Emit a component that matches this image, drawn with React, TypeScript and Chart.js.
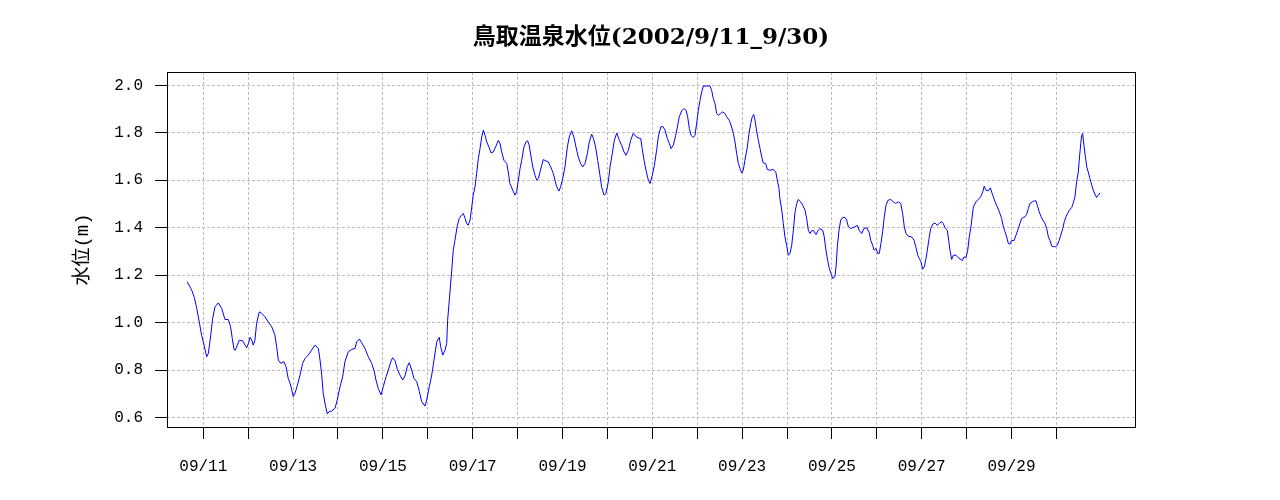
import React, { useEffect, useRef } from "react";
import { Chart, registerables } from "chart.js";

Chart.register(...registerables);

const TITLE = "鳥取温泉水位(2002/9/11_9/30)";
const Y_LABEL = "水位(m)";

// tick positions in days since 2002-09-11 00:00, and their labels
const tickDays = [0, 1, 2, 3, 4, 5, 6, 7, 8, 9, 10, 11, 12, 13, 14, 15, 16, 17, 18, 19];
const tickLabels = [
  "09/11", "", "09/13", "", "09/15", "", "09/17", "", "09/19", "",
  "09/21", "", "09/23", "", "09/25", "", "09/27", "", "09/29", "",
];
const yTicks = [0.6, 0.8, 1.0, 1.2, 1.4, 1.6, 1.8, 2.0];

// hours since 2002-09-11 00:00
const hours = [
  -8.6, -7.1, -6.2, -4.8, -3.5, -2.1, -0.9, 0.4, 1.8, 2.7,
  4.0, 5.0, 6.3, 8.0, 9.8, 11.6, 13.4, 14.6, 15.5, 16.4,
  17.1, 18.2, 19.2, 21.1, 22.3, 23.2, 24.1, 25.0, 25.9, 26.7,
  27.6, 28.5, 29.9, 31.2, 33.0, 34.7, 36.6, 38.3, 39.2, 40.1,
  41.4, 43.1, 44.2, 45.4, 46.7, 48.1, 49.0, 50.2, 51.7, 53.1,
  54.4, 56.1, 57.9, 59.7, 61.5, 62.4, 63.3, 64.1, 65.2, 66.3,
  67.3, 68.6, 70.4, 71.6, 73.1, 74.5, 75.7, 77.5, 79.3, 81.1,
  82.0, 83.4, 84.7, 86.4, 88.2, 90.0, 91.2, 92.3, 93.5, 95.0,
  96.2, 97.7, 98.9, 100.2, 101.2, 102.5, 103.7, 105.1, 106.6, 107.8,
  109.0, 110.1, 111.4, 112.6, 114.1, 115.5, 116.7, 118.5, 119.4, 120.8,
  122.1, 123.3, 124.8, 126.1, 126.9, 128.0, 129.2, 130.1, 130.6, 131.5,
  132.8, 133.6, 134.5, 135.8, 136.8, 138.1, 139.0, 139.9, 140.8, 141.6,
  142.6, 143.5, 144.3, 145.2, 146.1, 147.0, 147.9, 148.8, 149.7, 150.6,
  151.5, 152.7, 153.8, 155.0, 156.4, 157.7, 158.6, 159.5, 160.7, 162.2,
  163.0, 163.9, 165.4, 166.6, 167.5, 168.4, 169.3, 170.2, 171.4, 172.5,
  173.4, 174.2, 175.2, 176.1, 177.3, 178.2, 179.1, 180.0, 180.9, 181.7,
  183.2, 184.4, 185.7, 187.1, 188.0, 188.9, 190.1, 191.0, 192.1, 193.3,
  194.6, 195.6, 196.9, 198.1, 199.2, 200.4, 201.7, 202.8, 204.0, 205.3,
  206.3, 207.6, 208.5, 209.7, 210.8, 212.0, 212.9, 214.2, 215.2, 216.5,
  217.4, 218.6, 219.7, 221.0, 222.4, 223.6, 224.9, 225.9, 227.2, 228.4,
  229.8, 231.1, 232.5, 233.8, 234.6, 235.6, 236.6, 237.9, 238.8, 240.0,
  241.1, 242.3, 243.2, 244.5, 245.6, 246.8, 248.0, 249.1, 250.0, 251.2,
  252.5, 253.4, 254.4, 255.7, 256.9, 258.0, 258.9, 259.8, 260.7, 261.9,
  262.8, 263.7, 264.6, 265.5, 266.4, 267.3, 270.8, 271.7, 272.6, 273.5,
  274.4, 275.3, 276.5, 277.6, 278.8, 279.8, 281.1, 282.4, 283.3, 284.2,
  285.1, 286.0, 286.9, 287.8, 288.6, 289.5, 290.8, 291.7, 292.6, 293.4,
  294.2, 294.9, 295.8, 296.7, 297.6, 298.5, 299.3, 300.6, 301.5, 302.9,
  304.7, 306.0, 306.8, 307.7, 308.2, 309.2, 310.0, 310.9, 311.8, 312.7,
  313.6, 314.5, 315.4, 316.3, 317.2, 318.0, 319.3, 320.4, 321.6, 322.5,
  323.4, 324.3, 325.2, 326.0, 327.5, 328.7, 329.6, 331.1, 331.9, 332.8,
  333.7, 334.6, 335.5, 336.4, 337.6, 338.2, 338.9, 339.8, 340.7, 341.8,
  343.0, 343.9, 344.7, 346.0, 347.1, 348.3, 349.6, 350.6, 351.9, 353.1,
  354.6, 356.0, 356.7, 357.8, 358.5, 359.6, 360.5, 361.3, 362.2, 363.1,
  364.0, 364.9, 366.1, 367.4, 368.8, 370.1, 371.5, 372.8, 373.8, 374.7,
  375.6, 376.8, 378.6, 379.9, 380.8, 381.9, 382.7, 383.6, 384.5, 385.4,
  386.3, 387.0, 387.9, 388.8, 389.9, 391.1, 392.3, 393.4, 394.7, 395.5,
  396.4, 397.7, 398.4, 399.1, 400.0, 400.9, 402.3, 403.5, 405.0, 405.7,
  406.6, 407.7, 408.6, 409.4, 410.3, 411.6, 413.0, 414.2, 415.5, 416.6,
  417.4, 418.4, 419.6, 420.7, 421.6, 422.3, 423.2, 424.4, 425.5, 426.7,
  427.6, 428.5, 429.4, 430.3, 431.2, 432.1, 433.3, 434.4, 435.6, 436.5,
  437.4, 438.3, 439.2, 440.1, 441.0, 441.9, 443.1, 444.2, 445.1, 446.0,
  446.8, 447.8, 448.7, 449.9, 450.8, 451.7, 452.6, 453.5, 454.3, 455.6,
  456.5, 457.4, 458.3, 459.4, 460.2, 461.1, 462.0, 462.9, 464.2, 465.0,
  465.9, 466.8, 467.7, 468.2, 469.0, 469.5, 470.0, 470.7, 471.4, 472.2,
  473.0, 473.9, 474.9, 475.7, 476.6, 477.5, 478.4, 479.3,
];

// water level (m)
const levels = [
  1.172, 1.15, 1.137, 1.106, 1.06, 1.0, 0.947, 0.905, 0.856, 0.87,
  0.947, 1.018, 1.067, 1.083, 1.06, 1.013, 1.013, 0.982, 0.933, 0.887,
  0.884, 0.905, 0.926, 0.923, 0.905, 0.894, 0.912, 0.938, 0.926, 0.905,
  0.926, 0.997, 1.045, 1.039, 1.024, 1.003, 0.982, 0.947, 0.898, 0.842,
  0.828, 0.835, 0.814, 0.765, 0.737, 0.688, 0.702, 0.733, 0.779, 0.828,
  0.849, 0.863, 0.884, 0.905, 0.891, 0.842, 0.779, 0.702, 0.653, 0.615,
  0.625, 0.627, 0.639, 0.674, 0.73, 0.772, 0.835, 0.877, 0.887, 0.891,
  0.919, 0.931, 0.915, 0.891, 0.856, 0.828, 0.8, 0.758, 0.723, 0.695,
  0.73, 0.772, 0.8, 0.835, 0.852, 0.839, 0.803, 0.779, 0.758, 0.775,
  0.814, 0.831, 0.8, 0.765, 0.751, 0.709, 0.667, 0.648, 0.674, 0.73,
  0.779, 0.842, 0.919, 0.938, 0.898, 0.863, 0.884, 0.912, 1.01, 1.095,
  1.221, 1.305, 1.347, 1.41, 1.439, 1.453, 1.46, 1.439, 1.418, 1.41,
  1.432, 1.488, 1.537, 1.572, 1.628, 1.691, 1.733, 1.782, 1.811, 1.789,
  1.761, 1.74, 1.715, 1.719, 1.743, 1.768, 1.755, 1.719, 1.684, 1.67,
  1.635, 1.586, 1.558, 1.537, 1.551, 1.6, 1.649, 1.684, 1.74, 1.761,
  1.766, 1.747, 1.698, 1.656, 1.621, 1.6, 1.607, 1.635, 1.663, 1.687,
  1.681, 1.677, 1.656, 1.628, 1.6, 1.572, 1.554, 1.572, 1.607, 1.656,
  1.74, 1.782, 1.808, 1.782, 1.74, 1.698, 1.67, 1.656, 1.67, 1.712,
  1.761, 1.794, 1.776, 1.74, 1.684, 1.621, 1.572, 1.537, 1.544, 1.593,
  1.656, 1.712, 1.768, 1.799, 1.768, 1.747, 1.719, 1.705, 1.726, 1.768,
  1.797, 1.785, 1.778, 1.776, 1.733, 1.684, 1.642, 1.6, 1.586, 1.621,
  1.663, 1.726, 1.782, 1.824, 1.827, 1.811, 1.776, 1.755, 1.733, 1.747,
  1.789, 1.824, 1.867, 1.892, 1.902, 1.895, 1.867, 1.818, 1.789, 1.78,
  1.789, 1.839, 1.895, 1.937, 1.972, 1.997, 1.997, 1.979, 1.944, 1.923,
  1.881, 1.874, 1.881, 1.888, 1.881, 1.867, 1.853, 1.824, 1.797, 1.761,
  1.712, 1.67, 1.649, 1.63, 1.642, 1.684, 1.74, 1.797, 1.839, 1.867,
  1.877, 1.853, 1.804, 1.768, 1.733, 1.698, 1.673, 1.67, 1.645, 1.642,
  1.645, 1.635, 1.6, 1.565, 1.523, 1.474, 1.418, 1.361, 1.326, 1.284,
  1.291, 1.326, 1.389, 1.467, 1.502, 1.519, 1.509, 1.495, 1.474, 1.439,
  1.389, 1.375, 1.387, 1.389, 1.371, 1.389, 1.396, 1.389, 1.361, 1.305,
  1.263, 1.228, 1.207, 1.186, 1.193, 1.235, 1.32, 1.389, 1.432, 1.443,
  1.443, 1.432, 1.406, 1.396, 1.4, 1.403, 1.41, 1.389, 1.375, 1.396,
  1.4, 1.378, 1.347, 1.326, 1.305, 1.312, 1.291, 1.291, 1.333, 1.383,
  1.446, 1.495, 1.516, 1.519, 1.509, 1.502, 1.509, 1.502, 1.46, 1.403,
  1.375, 1.364, 1.361, 1.347, 1.32, 1.284, 1.27, 1.256, 1.225, 1.235,
  1.27, 1.305, 1.354, 1.396, 1.415, 1.42, 1.41, 1.418, 1.425, 1.418,
  1.4, 1.389, 1.347, 1.305, 1.266, 1.284, 1.284, 1.274, 1.266, 1.261,
  1.277, 1.274, 1.305, 1.361, 1.403, 1.488, 1.509, 1.519, 1.53, 1.551,
  1.575, 1.558, 1.555, 1.568, 1.545, 1.53, 1.509, 1.488, 1.467, 1.439,
  1.406, 1.383, 1.361, 1.333, 1.331, 1.347, 1.345, 1.368, 1.396, 1.418,
  1.439, 1.443, 1.446, 1.456, 1.481, 1.502, 1.509, 1.513, 1.513, 1.488,
  1.467, 1.446, 1.432, 1.418, 1.396, 1.361, 1.345, 1.322, 1.32, 1.32,
  1.326, 1.345, 1.368, 1.396, 1.425, 1.446, 1.46, 1.474, 1.485, 1.505,
  1.53, 1.593, 1.635, 1.684, 1.755, 1.789, 1.797, 1.747, 1.705, 1.656,
  1.635, 1.607, 1.579, 1.558, 1.541, 1.527, 1.537, 1.547,
];

const TICK_FONT = '"Liberation Mono", "Noto Sans CJK JP", monospace';

const framePlugin = {
  id: "frameAndTitle",
  afterDraw(chart: any) {
    const { ctx, chartArea: a } = chart;
    ctx.save();
    ctx.strokeStyle = "#000";
    ctx.lineWidth = 1;
    ctx.setLineDash([]);
    const l = Math.round(a.left) + 0.5;
    const t = Math.round(a.top) + 0.5;
    const r = Math.round(a.right) + 0.5;
    const b = Math.round(a.bottom) + 0.5;
    ctx.strokeRect(l, t, r - l, b - t);
    ctx.fillStyle = "#000";
    ctx.font = 'bold 23px "DejaVu Serif", "Noto Sans CJK JP", serif';
    ctx.textAlign = "center";
    ctx.textBaseline = "middle";
    ctx.fillText(TITLE, (a.left + a.right) / 2, 38);
    ctx.restore();
  },
};

export default function App() {
  const canvasRef = useRef<HTMLCanvasElement | null>(null);

  useEffect(() => {
    if (!canvasRef.current) return;
    const n = Math.min(hours.length, levels.length);
    const points = [];
    for (let i = 0; i < n; i++) points.push({ x: hours[i], y: levels[i] });

    const chart = new Chart(canvasRef.current, {
      type: "line",
      data: {
        datasets: [
          {
            data: points,
            borderColor: "#0000ff",
            borderWidth: 1,
            pointRadius: 0,
            fill: false,
            tension: 0,
          },
        ],
      },
      options: {
        responsive: false,
        devicePixelRatio: 1,
        animation: false,
        layout: { padding: { left: 0, top: 72, right: 145, bottom: 0 } },
        plugins: {
          legend: { display: false },
          title: { display: false },
          tooltip: { enabled: false },
        },
        scales: {
          x: {
            type: "linear",
            min: -19.4,
            max: 498,
            afterBuildTicks: (s: any) => {
              s.ticks = tickDays.map((d) => ({ value: d * 24 }));
            },
            afterFit: (s: any) => {
              s.height = 73;
            },
            ticks: {
              autoSkip: false,
              maxRotation: 0,
              minRotation: 0,
              padding: 18,
              color: "#000",
              font: { family: TICK_FONT, size: 16 },
              callback: (_v: any, i: number) => tickLabels[i],
            },
            grid: {
              color: "#bebebe",
              lineWidth: 1,
              tickColor: "#000",
              tickLength: 12,
              tickWidth: 1,
            },
            border: { display: false, dash: [3, 2] },
          },
          y: {
            type: "linear",
            min: 0.56,
            max: 2.056,
            afterBuildTicks: (s: any) => {
              s.ticks = yTicks.map((v) => ({ value: v }));
            },
            afterFit: (s: any) => {
              s.width = 167;
            },
            ticks: {
              padding: 12,
              color: "#000",
              font: { family: TICK_FONT, size: 16 },
              callback: (v: any) => Number(v).toFixed(1),
            },
            grid: {
              color: "#bebebe",
              lineWidth: 1,
              tickColor: "#000",
              tickLength: 12,
              tickWidth: 1,
            },
            border: { display: false, dash: [3, 2] },
            title: {
              display: true,
              text: Y_LABEL,
              color: "#000",
              font: { family: TICK_FONT, size: 19 },
              padding: { top: 72, bottom: 0 },
            },
          },
        },
      },
      plugins: [framePlugin],
    });
    return () => chart.destroy();
  }, []);

  return (
    <div
      style={{
        position: "absolute",
        left: 0,
        top: 0,
        width: 1280,
        height: 500,
        background: "#fff",
      }}
    >
      <canvas ref={canvasRef} width={1280} height={500} style={{ display: "block" }} />
    </div>
  );
}
